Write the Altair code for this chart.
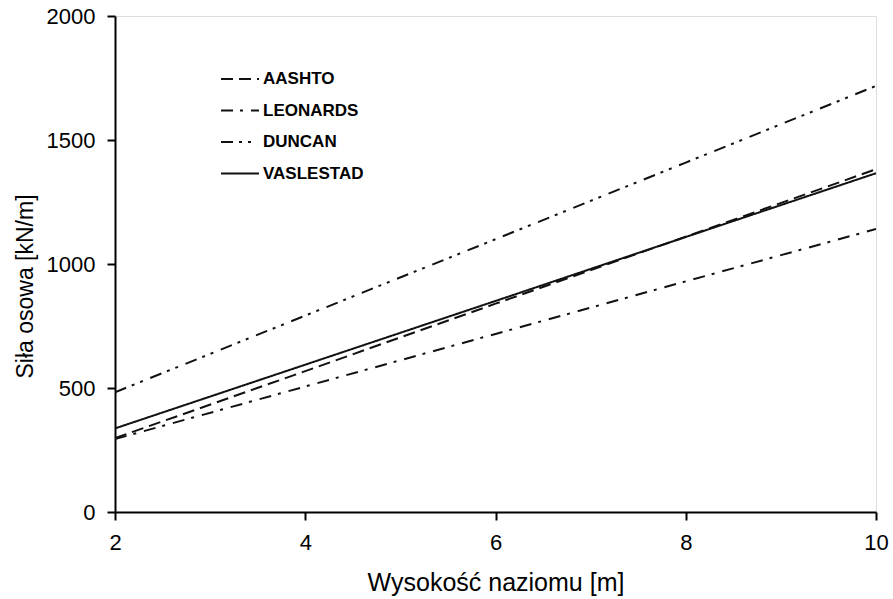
import altair as alt
import pandas as pd

# Data
heights = [2, 4, 6, 8, 10]
series_names = ["AASHTO", "LEONARDS", "DUNCAN", "VASLESTAD"]
aashto = [298, 568, 840, 1110, 1382]
leonards = [294, 506, 718, 930, 1141]
duncan = [483, 792, 1100, 1409, 1718]
vaslestad = [337, 594, 851, 1109, 1366]
y_ticks = [0, 500, 1000, 1500, 2000]
x_ticks = [2, 4, 6, 8, 10]

values = {"AASHTO": aashto, "LEONARDS": leonards, "DUNCAN": duncan, "VASLESTAD": vaslestad}
rows = []
for name in series_names:
    for h, v in zip(heights, values[name]):
        rows.append({"h": h, "F": v, "metoda": name})
df = pd.DataFrame(rows)

FONT = "Liberation Sans"

chart = alt.Chart(df).mark_line(strokeWidth=2, color="#111111", clip=True).encode(
    x=alt.X("h:Q",
            scale=alt.Scale(domain=[2, 10], nice=False, zero=False),
            axis=alt.Axis(values=x_ticks, title="Wysokość naziomu [m]", grid=False, format="d",
                          labelFontSize=22, labelFont=FONT, labelColor="#000",
                          labelBaseline="alphabetic", labelPadding=29, labelFlush=False,
                          tickSize=8, tickWidth=2, tickColor="#000",
                          domainColor="#000", domainWidth=2,
                          titleFont=FONT, titleFontSize=25, titleFontWeight="normal",
                          titleColor="#000", titleBaseline="alphabetic", titleY=78)),
    y=alt.Y("F:Q",
            scale=alt.Scale(domain=[0, 2000], nice=False),
            axis=alt.Axis(values=y_ticks, title="Siła osowa [kN/m]", grid=False, format="d",
                          labelFontSize=22, labelFont=FONT, labelColor="#000",
                          labelPadding=12,
                          tickSize=8, tickWidth=2, tickColor="#000",
                          domainColor="#000", domainWidth=2,
                          titleFont=FONT, titleFontSize=23, titleFontWeight="normal",
                          titleColor="#000", titleAngle=-90, titleBaseline="middle",
                          titleAlign="center", titleX=-90, titleY=270)),
    strokeDash=alt.StrokeDash("metoda:N",
                              scale=alt.Scale(domain=series_names,
                                              range=[[12, 6], [12, 7, 3, 8], [12, 6, 3, 6, 3, 8], [1, 0]]),
                              sort=series_names,
                              legend=alt.Legend(title=None, orient="none", legendX=105, legendY=55,
                                                direction="vertical", symbolType="stroke",
                                                symbolSize=1444, symbolStrokeWidth=2,
                                                symbolStrokeColor="#111111",
                                                labelFont=FONT, labelFontSize=17,
                                                labelFontWeight="bold", labelColor="#000",
                                                labelOffset=3, clipHeight=16, rowPadding=14.5,
                                                padding=0)),
    detail="metoda:N",
).properties(
    width=761,
    height=496,
    autosize=alt.AutoSizeParams(type="none"),
    padding={"left": 115, "top": 16, "right": 17, "bottom": 87},
).configure_view(stroke=None).configure(background="white")

chart.save("out.html", embed_options={"renderer": "svg", "actions": False})
